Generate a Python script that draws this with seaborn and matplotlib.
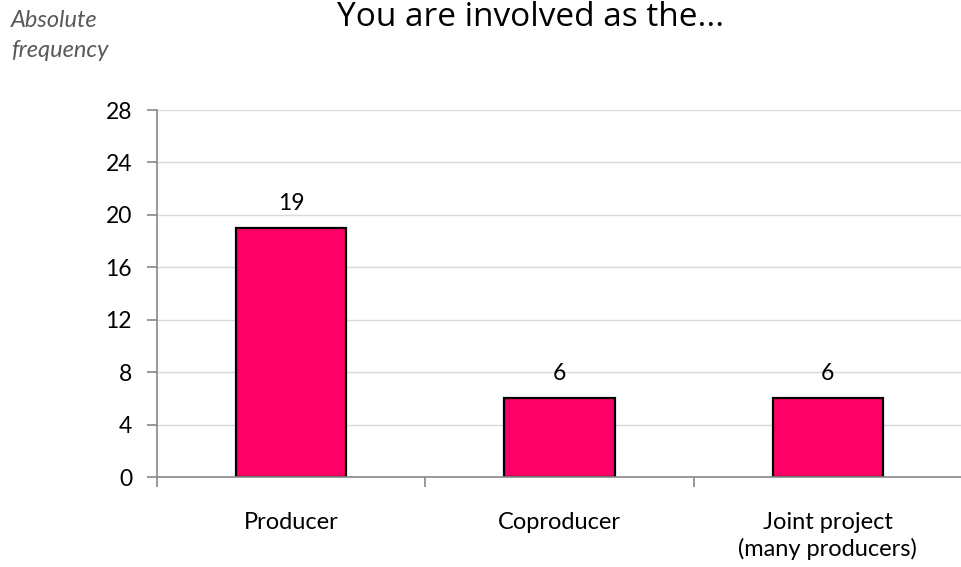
import matplotlib
matplotlib.use("Agg")
import matplotlib.pyplot as plt
import seaborn as sns
import pandas as pd
from matplotlib.ticker import FixedLocator

categories = ["Producer", "Coproducer", "Joint project\n(many producers)"]
values = [19, 6, 6]
yticks = [0, 4, 8, 12, 16, 20, 24, 28]
title = "You are involved as the..."
ylabel = "Absolute\nfrequency"

sns.set_theme(style="white")
plt.rcParams['font.family'] = ['Lato', 'DejaVu Sans']
plt.rcParams['text.color'] = 'black'
plt.rcParams['xtick.color'] = 'black'
plt.rcParams['ytick.color'] = 'black'

df = pd.DataFrame({"cat": categories, "val": values})

fig = plt.figure(figsize=(9.62, 5.67), dpi=100)
ax = fig.add_axes([157/962, 1-477/567, 1-157/962, (477-110)/567])

sns.barplot(data=df, x="cat", y="val", color="#FF0066", saturation=1,
            width=0.41, edgecolor="black", linewidth=1.6, ax=ax)

ax.set_xlim(-0.5, 2.5)
ax.set_ylim(0, 28)
ax.set_yticks(yticks)
ax.yaxis.grid(True, color="#d9d9d9", linewidth=1)
ax.set_axisbelow(True)
for s in ["top", "right"]:
    ax.spines[s].set_visible(False)
for s in ["left", "bottom"]:
    ax.spines[s].set_color("#888888")
    ax.spines[s].set_linewidth(1.2)

ax.tick_params(axis="y", which="major", length=7, width=1.2, color="#888888",
               labelcolor="black", labelsize=16.5, pad=11, left=True)
ax.tick_params(axis="x", which="major", length=0, labelsize=17, pad=25,
               labelcolor="black")
ax.xaxis.set_minor_locator(FixedLocator([-0.5, 0.5, 1.5, 2.5]))
ax.tick_params(axis="x", which="minor", length=7, width=1.2, color="#888888", bottom=True)
ax.set_xlabel("")
ax.set_ylabel("")
for lbl in ax.get_xticklabels():
    lbl.set_linespacing(1.3)

for c in ax.containers:
    ax.bar_label(c, labels=[str(v) for v in values], padding=10, fontsize=16.5,
                 color="black")

fig.text(0.552, 0.998, title, ha="center", va="top", fontsize=24,
         family=["Liberation Sans Narrow", "Open Sans", "DejaVu Sans"], color="black")
fig.text(11/962, 1-10/567, ylabel, ha="left", va="top", fontsize=17,
         style="italic", color="#595959", linespacing=1.55)

fig.savefig("out.png", dpi=100)
